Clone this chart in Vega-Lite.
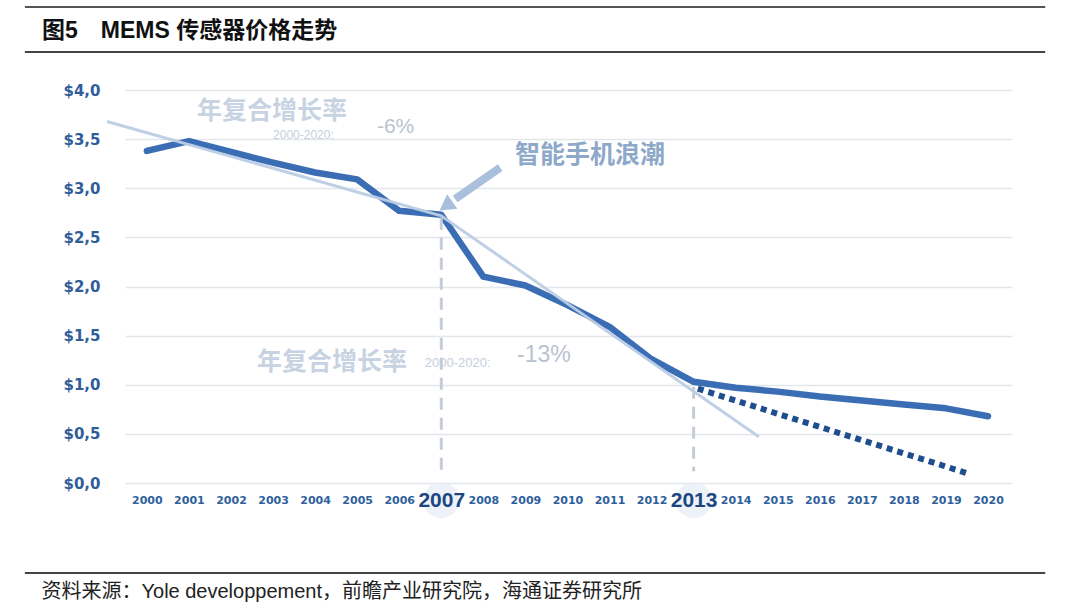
{
  "$schema": "https://vega.github.io/schema/vega-lite/v6.json",
  "autosize": "none",
  "width": 887,
  "height": 393,
  "padding": {"left": 125, "top": 90, "right": 68, "bottom": 131},
  "background": "white",
  "config": {"view": {"stroke": null}},
  "title": {
    "text": "图5\u2003MEMS 传感器价格走势",
    "anchor": "start",
    "frame": "group",
    "dx": -83,
    "dy": 37,
    "offset": 0,
    "font": "Liberation Sans, Noto Sans CJK SC",
    "fontSize": 23,
    "fontWeight": "bold",
    "color": "#111111"
  },
  "data": {"values": [{}]},
  "datasets": {
    "price": [
      {"year": 2000, "price": 3.38},
      {"year": 2001, "price": 3.48},
      {"year": 2002, "price": 3.37},
      {"year": 2003, "price": 3.26},
      {"year": 2004, "price": 3.16},
      {"year": 2005, "price": 3.09},
      {"year": 2006, "price": 2.77},
      {"year": 2007, "price": 2.73},
      {"year": 2008, "price": 2.10},
      {"year": 2009, "price": 2.01},
      {"year": 2010, "price": 1.81},
      {"year": 2011, "price": 1.59},
      {"year": 2012, "price": 1.26},
      {"year": 2013, "price": 1.03},
      {"year": 2014, "price": 0.97},
      {"year": 2015, "price": 0.93},
      {"year": 2016, "price": 0.88},
      {"year": 2017, "price": 0.84},
      {"year": 2018, "price": 0.80},
      {"year": 2019, "price": 0.76},
      {"year": 2020, "price": 0.68}
    ],
    "projection": [
      {"year": 2013.1, "price": 0.96},
      {"year": 2019.5, "price": 0.10}
    ],
    "trend": [
      {"year": 1999.05, "price": 3.68},
      {"year": 2007, "price": 2.72},
      {"year": 2014.55, "price": 0.47}
    ],
    "milestones": [
      {"year": 2007},
      {"year": 2013}
    ]
  },
  "encoding": {
    "x": {
      "type": "quantitative",
      "scale": {"domain": [1999.48, 2020.57], "nice": false, "zero": false},
      "axis": {
        "values": [2000,2001,2002,2003,2004,2005,2006,2007,2008,2009,2010,2011,2012,2013,2014,2015,2016,2017,2018,2019,2020],
        "format": "d",
        "grid": false, "domain": false, "ticks": false,
        "labelOverlap": false, "labelFlush": false,
        "labelPadding": 17, "labelBaseline": "middle",
        "labelFont": {"condition": {"test": "datum.value == 2007 || datum.value == 2013", "value": "Liberation Sans"}, "value": "DejaVu Sans"},
        "labelFontSize": {"condition": {"test": "datum.value == 2007 || datum.value == 2013", "value": 21}, "value": 11},
        "labelFontWeight": "bold",
        "labelColor": {"condition": {"test": "datum.value == 2007 || datum.value == 2013", "value": "#1d4680"}, "value": "#2f5f9c"},
        "zindex": 1,
        "title": "资料来源：Yole developpement，前瞻产业研究院，海通证券研究所",
        "titleAnchor": "start", "titleAlign": "left", "titleBaseline": "middle",
        "titleX": -84, "titleY": 108,
        "titleFont": "Liberation Sans, Noto Sans CJK SC",
        "titleFontSize": 20, "titleFontWeight": "normal", "titleColor": "#222222"
      }
    },
    "y": {
      "type": "quantitative",
      "scale": {"domain": [0, 4], "nice": false, "zero": false},
      "axis": {
        "values": [0, 0.5, 1, 1.5, 2, 2.5, 3, 3.5, 4],
        "labelExpr": "'$' + replace(format(datum.value, '.1f'), '.', ',')",
        "title": null, "domain": false, "ticks": false,
        "labelPadding": 25,
        "labelFont": "DejaVu Sans", "labelFontWeight": "bold", "labelFontSize": 15,
        "labelColor": "#2f5d99",
        "gridColor": "#e3e7ec", "gridWidth": 1.5,
        "zindex": 0
      }
    }
  },
  "layer": [
    {
      "data": {"name": "price"},
      "mark": {"type": "line", "color": "#3a6db3", "strokeWidth": 6.5, "strokeJoin": "round", "strokeCap": "round"},
      "encoding": {
        "x": {"field": "year"},
        "y": {"field": "price"}
      }
    },
    {
      "data": {"name": "trend"},
      "mark": {"type": "line", "color": "#bccde5", "strokeWidth": 3, "opacity": 0.95},
      "encoding": {
        "x": {"field": "year"},
        "y": {"field": "price"}
      }
    },
    {
      "data": {"name": "projection"},
      "mark": {"type": "line", "color": "#1e4e8e", "strokeWidth": 6, "strokeDash": [6, 5]},
      "encoding": {
        "x": {"field": "year"},
        "y": {"field": "price"}
      }
    },
    {
      "mark": {"type": "rule", "color": "#c3ccd7", "strokeWidth": 3, "strokeDash": [12, 8]},
      "encoding": {
        "x": {"datum": 2007},
        "y": {"datum": 2.70},
        "y2": {"datum": 0.12}
      }
    },
    {
      "mark": {"type": "rule", "color": "#c3ccd7", "strokeWidth": 3, "strokeDash": [12, 8]},
      "encoding": {
        "x": {"datum": 2013},
        "y": {"datum": 0.98},
        "y2": {"datum": 0.12}
      }
    },
    {
      "data": {"name": "milestones"},
      "mark": {"type": "point", "shape": "circle", "filled": true, "size": 1300, "color": "#e8eff8", "opacity": 0.8},
      "encoding": {
        "x": {"field": "year"},
        "y": {"datum": -0.175}
      }
    },
    {
      "mark": {"type": "rule", "color": "#a9bfdc", "strokeWidth": 8},
      "encoding": {
        "x": {"datum": 2008.4},
        "y": {"datum": 3.21},
        "x2": {"datum": 2007.33},
        "y2": {"datum": 2.89}
      }
    },
    {
      "mark": {"type": "point", "shape": "triangle-up", "filled": true, "size": 320, "angle": 235, "color": "#a9bfdc", "opacity": 1},
      "encoding": {
        "x": {"datum": 2007.11},
        "y": {"datum": 2.82}
      }
    },
    {
      "mark": {"type": "text", "text": "年复合增长率", "align": "left", "baseline": "middle", "font": "Noto Sans CJK SC", "fontWeight": "bold", "fontSize": 25, "color": "#c7d3e2"},
      "encoding": {
        "x": {"datum": 2001.19},
        "y": {"datum": 3.79}
      }
    },
    {
      "mark": {"type": "text", "text": "2000-2020:", "align": "left", "baseline": "middle", "font": "Liberation Sans", "fontSize": 12, "color": "#c5ceda"},
      "encoding": {
        "x": {"datum": 2003.0},
        "y": {"datum": 3.54}
      }
    },
    {
      "mark": {"type": "text", "text": "-6%", "align": "left", "baseline": "middle", "font": "Liberation Sans", "fontSize": 21, "color": "#b9c3d0"},
      "encoding": {
        "x": {"datum": 2005.47},
        "y": {"datum": 3.62}
      }
    },
    {
      "mark": {"type": "text", "text": "智能手机浪潮", "align": "left", "baseline": "middle", "font": "Noto Sans CJK SC", "fontWeight": "bold", "fontSize": 25, "color": "#8ea8ca"},
      "encoding": {
        "x": {"datum": 2008.75},
        "y": {"datum": 3.34}
      }
    },
    {
      "mark": {"type": "text", "text": "年复合增长率", "align": "left", "baseline": "middle", "font": "Noto Sans CJK SC", "fontWeight": "bold", "fontSize": 25, "color": "#c7d3e2"},
      "encoding": {
        "x": {"datum": 2002.62},
        "y": {"datum": 1.23}
      }
    },
    {
      "mark": {"type": "text", "text": "2000-2020:", "align": "left", "baseline": "middle", "font": "Liberation Sans", "fontSize": 13, "color": "#c5ceda"},
      "encoding": {
        "x": {"datum": 2006.61},
        "y": {"datum": 1.22}
      }
    },
    {
      "mark": {"type": "text", "text": "-13%", "align": "left", "baseline": "middle", "font": "Liberation Sans", "fontSize": 23, "color": "#b9c3d0"},
      "encoding": {
        "x": {"datum": 2008.8},
        "y": {"datum": 1.30}
      }
    },
    {
      "mark": {"type": "rule", "color": "#555555", "strokeWidth": 2},
      "encoding": {
        "x": {"datum": 1997.1},
        "x2": {"datum": 2021.36},
        "y": {"datum": 4.845}
      }
    },
    {
      "mark": {"type": "rule", "color": "#444444", "strokeWidth": 2},
      "encoding": {
        "x": {"datum": 1997.1},
        "x2": {"datum": 2021.36},
        "y": {"datum": 4.387}
      }
    },
    {
      "mark": {"type": "rule", "color": "#444444", "strokeWidth": 2},
      "encoding": {
        "x": {"datum": 1997.1},
        "x2": {"datum": 2021.36},
        "y": {"datum": -0.916}
      }
    }
  ]
}
